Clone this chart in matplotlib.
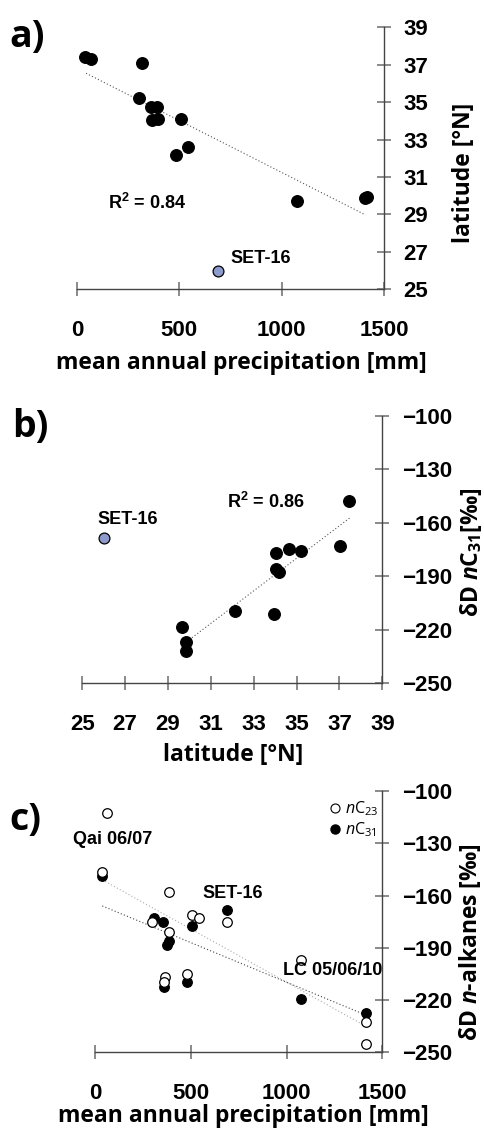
#!/usr/bin/env python3
"""Three-panel figure: latitude, precipitation and leaf-wax dD relations."""

import matplotlib

matplotlib.use("Agg")

import matplotlib.pyplot as plt
from matplotlib.lines import Line2D

# (a) site latitude against mean annual precipitation
map_a = [39, 67, 316, 304, 361, 390, 365, 394, 508, 541, 484, 1073, 1408, 1418]
lat_a = [37.43, 37.30, 37.08, 35.24, 34.72, 34.76, 34.05, 34.08, 34.08, 32.62,
         32.16, 29.72, 29.85, 29.92]
trend_a_x = [44, 1410]
trend_a_y = [36.54, 28.97]

# SET-16 outlier, shared by all panels
set16_map = 687
set16_lat = 26.0
set16_dd31 = -168.3
set16_dd23 = -175.0

# (b) dD of nC31 against latitude
lat_b = [37.46, 37.03, 34.02, 34.66, 35.20, 34.02, 34.18, 32.13, 33.96, 29.67,
         29.84, 29.84]
dd31_b = [-147.6, -173.0, -176.8, -174.9, -175.8, -185.9, -187.8, -209.3,
          -211.2, -218.6, -226.7, -231.7]
trend_b_x = [29.87, 37.49]
trend_b_y = [-226.7, -157.2]

# (c) dD of nC23 / nC31 against mean annual precipitation
map_c23 = [64, 38, 388, 299, 388, 508, 543, 364, 360, 482, 1074, 1413, 1413]
dd_c23 = [-112.8, -146.3, -157.8, -175.0, -180.8, -171.2, -173.1, -207.0,
          -209.8, -205.2, -196.9, -232.7, -245.5]
map_c31 = [38, 308, 353, 374, 388, 508, 358, 482, 1074, 1413]
dd_c31 = [-148.8, -173.0, -175.4, -188.4, -186.1, -177.5, -212.5, -209.5,
          -219.6, -227.3]
trend_c23_x = [38, 1413]
trend_c23_y = [-151.0, -235.0]
trend_c31_x = [38, 1413]
trend_c31_y = [-166.0, -228.6]

map_ticks = [0, 500, 1000, 1500]
lat_ticks = [25, 27, 29, 31, 33, 35, 37, 39]
dd_ticks = [-100, -130, -160, -190, -220, -250]

LABEL_FONT = "Open Sans"
NUM_FONT = "Liberation Sans"
SET16_COLOR = "#8c9bcb"

plt.rcParams["mathtext.fontset"] = "custom"
plt.rcParams["mathtext.rm"] = "Open Sans"
plt.rcParams["mathtext.cal"] = "Open Sans:italic"
plt.rcParams["mathtext.it"] = "Open Sans:italic:bold"
plt.rcParams["mathtext.sf"] = "Open Sans:bold"
plt.rcParams["mathtext.bf"] = "Liberation Sans:bold"


def style_axes(ax, xticks, yticks):
    for side in ("top", "left"):
        ax.spines[side].set_visible(False)
    for side in ("bottom", "right"):
        ax.spines[side].set_color("#444444")
        ax.spines[side].set_linewidth(1.0)
    ax.set_xlim(xticks[0], xticks[-1])
    ax.set_ylim(min(yticks), max(yticks))
    ax.set_xticks(xticks)
    ax.set_yticks(yticks)
    ax.yaxis.tick_right()
    ax.tick_params(axis="both", direction="inout", length=10, width=1.2,
                   color="#777777", labelsize=16)
    ax.tick_params(axis="x", pad=17)
    ax.tick_params(axis="y", pad=9)
    for lab in ax.get_xticklabels() + ax.get_yticklabels():
        lab.set_fontfamily(NUM_FONT)
        lab.set_fontweight("bold")


def dots(ax, x, y, size=8.4, face="black", zorder=3):
    ax.plot(x, y, "o", ms=size, mfc=face, mec="black", mew=0.9,
            clip_on=False, zorder=zorder)


def note(ax, x, y, text, **kw):
    ax.text(x, y, text, fontsize=13, fontfamily=NUM_FONT, fontweight="bold",
            va="center", zorder=5, **kw)


def side_label(ax, text, x, y, rotation=0):
    ax.text(x, y, text, transform=ax.transAxes, fontsize=16.5,
            fontfamily=LABEL_FONT, fontweight="bold", ha="center",
            va="center", rotation=rotation)


def panel_letter(fig, x, y, text):
    fig.text(x, y, text, fontsize=27, fontfamily=LABEL_FONT,
             fontweight="bold", ha="left", va="center")


fig = plt.figure(figsize=(4.85, 11.3), dpi=100)

# ---- a) ----
ax_a = fig.add_axes([0.1588, 0.7440, 0.6330, 0.2319])
style_axes(ax_a, map_ticks, lat_ticks)
ax_a.plot(trend_a_x, trend_a_y, ls=(0, (1, 2)), lw=0.8, color="#555555")
dots(ax_a, map_a, lat_a)
dots(ax_a, [set16_map], [set16_lat], size=7.8, face=SET16_COLOR)
note(ax_a, 342, 29.61, "R$^{\\mathbf{2}}$ = 0.84", ha="center")
note(ax_a, 748, 26.67, "SET-16", ha="left")
side_label(ax_a, "mean annual precipitation [mm]", 0.535, -0.280)
side_label(ax_a, "latitude [°N]", 1.262, 0.445, rotation=90)
panel_letter(fig, 0.020, 0.967, "a)")

# ---- b) ----
ax_b = fig.add_axes([0.1697, 0.3953, 0.6186, 0.2368])
style_axes(ax_b, lat_ticks, dd_ticks)
ax_b.plot(trend_b_x, trend_b_y, ls=(0, (1, 2)), lw=0.8, color="#555555")
dots(ax_b, lat_b, dd31_b)
dots(ax_b, [set16_lat], [set16_dd31], size=7.8, face=SET16_COLOR)
note(ax_b, 33.57, -148.2, "R$^{\\mathbf{2}}$ = 0.86", ha="center")
note(ax_b, 25.72, -158.4, "SET-16", ha="left")
side_label(ax_b, "latitude [°N]", 0.503, -0.268)
side_label(ax_b, "δD $\\mathit{n}$C$_{\\mathsf{31}}$[‰]", 1.296, 0.49,
           rotation=90)
panel_letter(fig, 0.024, 0.622, "b)")

# ---- c) ----
ax_c = fig.add_axes([0.1959, 0.0688, 0.5924, 0.2312])
style_axes(ax_c, map_ticks, dd_ticks)
ax_c.plot(trend_c23_x, trend_c23_y, ls=(0, (1, 2)), lw=0.8, color="#aaaaaa")
ax_c.plot(trend_c31_x, trend_c31_y, ls=(0, (1, 2)), lw=0.8, color="#444444")
dots(ax_c, map_c31 + [set16_map], dd_c31 + [set16_dd31], size=6.9)
dots(ax_c, map_c23 + [set16_map], dd_c23 + [set16_dd23], size=6.9,
     face="white", zorder=4)
note(ax_c, 94, -127.7, "Qai 06/07", ha="center")
note(ax_c, 721, -158.7, "SET-16", ha="center")
note(ax_c, 1243, -203.2, "LC 05/06/10", ha="center")
side_label(ax_c, "mean annual precipitation [mm]", 0.516, -0.245)
side_label(ax_c, "δD $\\mathit{n}$-alkanes [‰]", 1.305, 0.42, rotation=90)
panel_letter(fig, 0.020, 0.274, "c)")

handles = [
    Line2D([], [], ls="none", marker="o", ms=6.5, mfc="white", mec="black",
           mew=0.8),
    Line2D([], [], ls="none", marker="o", ms=6.5, mfc="black", mec="black"),
]
legend_labels = ["$\\mathcal{n}$C$_{\\mathrm{23}}$",
                 "$\\mathcal{n}$C$_{\\mathrm{31}}$"]
leg = ax_c.legend(handles, legend_labels, loc="upper right",
                  bbox_to_anchor=(1.02, 1.005), frameon=False,
                  handletextpad=0.1, handlelength=1.0, borderaxespad=0.2,
                  labelspacing=0.15, prop={"family": LABEL_FONT, "size": 11.5})

fig.savefig("out.png", dpi=100)
